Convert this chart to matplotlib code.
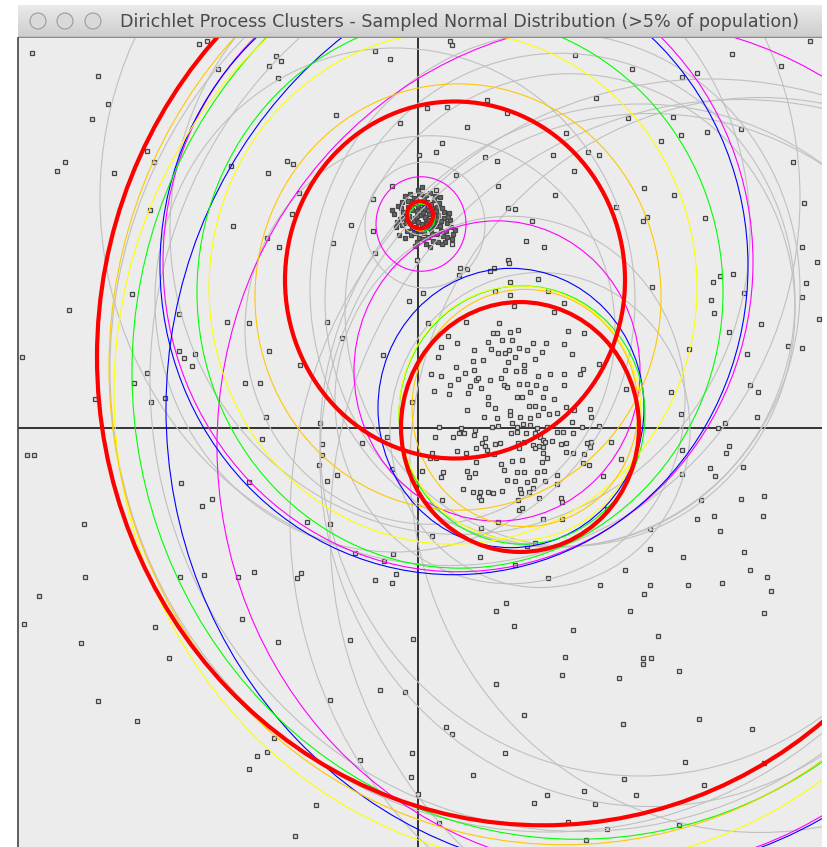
import matplotlib.pyplot as plt
import numpy as np
from matplotlib.patches import Ellipse, Circle

# window title
title = 'Dirichlet Process Clusters - Sampled Normal Distribution (>5% of population)'

# sample points, model units (origin at the cross-hair)
background = [
    (-3.86, 3.75), (-3.20, 3.52), (-3.10, 3.24), (-3.26, 3.09), (-3.53, 2.66), (-3.61, 2.57), (-3.04, 2.55),
    (-2.64, 2.66), (-2.71, 2.77), (-2.19, 3.84), (-2.00, 3.59), (-2.11, 3.87), (-1.42, 3.72), (-1.37, 3.67),
    (-1.49, 3.62), (-1.40, 3.50), (-0.43, 3.77), (-0.28, 3.69), (0.32, 3.87), (-0.82, 3.13), (-0.18, 3.05),
    (0.09, 3.20), (0.29, 3.21), (0.24, 2.85), (0.18, 2.76), (0.01, 2.73), (-1.31, 2.67), (-1.25, 2.64),
    (-1.87, 2.62), (-1.50, 2.55), (-0.26, 2.42), (0.38, 2.53), (0.18, 2.38), (-1.19, 2.35), (0.69, 3.28),
    (0.89, 3.15), (0.49, 3.01), (1.48, 2.95), (1.78, 3.30), (2.10, 3.10), (0.67, 2.71), (0.79, 2.67),
    (1.35, 2.73), (1.70, 2.76), (1.81, 2.73), (1.56, 2.57), (0.80, 2.42), (1.37, 2.33), (1.98, 2.21),
    (0.90, 2.20), (0.97, 2.19), (1.14, 2.07), (-0.67, 2.03), (-0.45, 1.97), (-0.85, 1.85), (-1.39, 1.81),
    (-1.51, 1.90), (-0.43, 1.75), (1.08, 1.87), (1.26, 1.81), (0.34, 1.84), (-0.01, 1.68), (0.90, 1.68),
    (0.91, 1.65), (0.42, 1.60), (0.49, 1.59), (0.41, 1.53), (0.72, 1.57), (0.76, 1.60), (1.20, 1.49),
    (1.30, 1.37), (0.92, 1.46), (0.77, 1.37), (0.05, 1.35), (-1.26, 2.14), (-0.45, 2.29), (3.14, 3.74),
    (3.63, 3.62), (2.14, 3.59), (2.79, 3.55), (2.64, 3.51), (2.55, 3.11), (2.43, 2.87), (2.63, 2.93),
    (2.89, 2.96), (3.23, 2.99), (3.75, 2.66), (2.26, 2.40), (2.56, 2.33), (3.86, 2.25), (2.29, 2.11),
    (2.25, 2.07), (2.87, 2.10), (3.84, 1.81), (3.99, 1.66), (3.02, 1.52), (3.15, 1.54), (2.95, 1.46),
    (2.34, 1.41), (3.88, 1.45), (3.92, 3.87), (2.93, 1.28), (2.96, 1.15), (3.26, 1.35), (3.84, 1.31),
    (4.01, 1.09), (3.11, 0.96), (3.43, 1.04), (3.70, 0.82), (3.84, 0.80), (2.71, 0.79), (3.29, 0.74),
    (2.53, 0.36), (2.63, 0.14), (3.32, 0.43), (3.40, 0.36), (3.39, 0.11), (3.07, 0.05), (3.00, 0.00),
    (3.11, -0.18), (3.08, -0.25), (2.64, -0.22), (2.92, -0.40), (2.97, -0.48), (3.25, -0.39), (2.64, -0.46),
    (2.83, -0.72), (3.23, -0.71), (3.46, -0.68), (2.79, -0.91), (2.96, -0.88), (3.02, -1.03), (3.45, -0.88),
    (2.32, -1.01), (2.32, -1.21), (2.65, -1.29), (3.26, -1.24), (3.32, -1.42), (3.49, -1.49), (3.53, -1.63),
    (2.32, -1.57), (2.26, -1.66), (2.70, -1.57), (3.04, -1.55), (3.46, -1.85), (-3.94, -1.96), (-3.37, -2.15),
    (-2.63, -1.99), (-2.49, -2.30), (-3.20, -2.73), (-2.81, -2.93), (-1.76, -1.91), (-1.40, -2.14),
    (-1.44, -3.10), (-1.61, -3.28), (-1.51, -3.24), (-1.69, -3.41), (-1.23, -4.08), (-0.05, -2.11),
    (0.78, -1.83), (0.88, -1.75), (0.96, -1.98), (1.55, -2.02), (2.12, -1.83), (2.40, -2.08), (1.47, -2.29),
    (1.44, -2.47), (2.25, -2.30), (2.33, -2.30), (2.25, -2.36), (2.61, -2.43), (2.01, -2.50), (0.78, -2.56),
    (-0.13, -2.64), (1.06, -2.87), (2.05, -2.96), (2.81, -2.91), (3.34, -3.01), (0.28, -2.99), (0.34, -3.06),
    (-0.06, -3.25), (0.87, -3.25), (2.67, -3.34), (3.46, -3.35), (0.55, -3.47), (-0.07, -3.49), (2.06, -3.51),
    (2.86, -3.57), (0.00, -3.66), (1.29, -3.67), (1.66, -3.63), (2.18, -3.67), (1.16, -3.75), (1.77, -3.76),
    (0.21, -3.95), (1.50, -3.94), (1.89, -4.01), (2.61, -3.97), (1.68, -4.12), (-2.86, 1.34), (-2.39, 1.14),
    (-1.91, 1.06), (-1.69, 1.05), (-1.49, 0.77), (-2.39, 0.77), (-2.34, 0.70), (-2.23, 0.74), (-2.26, 0.62),
    (-2.71, 0.55), (-2.84, 0.45), (-2.53, 0.30), (-2.67, 0.26), (-3.23, 0.29), (-1.73, 0.45), (-1.58, 0.45),
    (-1.52, 0.11), (-1.56, -0.11), (-2.37, -0.55), (-2.06, -0.71), (-2.16, -0.78), (-1.69, -0.54),
    (-3.34, -0.96), (-3.33, -1.49), (-2.38, -1.49), (-2.14, -1.47), (-1.80, -1.49), (-1.64, -1.44),
    (-0.98, 0.05), (-3.91, -0.27), (-3.84, -0.27), (-0.96, -0.16), (-0.96, -0.27), (-0.99, -0.37),
    (-0.56, -0.15), (-0.31, -0.09), (-0.06, 0.26), (-0.26, -0.41), (-0.81, -0.47), (-0.91, -0.53),
    (-1.11, -0.94), (-0.88, -0.96), (-0.63, -1.25), (-0.25, -1.26), (-0.34, -1.33), (-1.17, -1.45),
    (-1.21, -1.50), (-0.43, -1.52), (-0.26, -1.55), (-0.22, -1.46), (-3.79, -1.68), (-3.96, 0.71),
    (-3.49, 1.18), (-0.91, 1.06), (-0.76, 0.90), (-0.35, 0.73), (-1.18, 0.63), (0.34, 3.83), (1.57, 3.73),
    (0.97, -1.37), (1.30, -1.50), (1.82, -1.57), (2.07, -1.42), (-0.68, -2.12), (-0.88, -2.72),
    (-0.58, -3.32), (-1.02, -3.77), (-0.38, -2.62), (-2.68, 2.18), (-1.85, 2.02),
]

broad = [
    (-0.09, 1.27), (1.46, 1.25), (0.96, 1.22), (1.36, 1.16), (0.92, 1.33), (0.48, 1.06), (0.81, 1.05),
    (0.10, 1.05), (0.30, 0.92), (0.75, 0.95), (0.79, 0.95), (0.92, 0.96), (1.00, 0.98), (1.50, 0.97),
    (1.66, 0.95), (0.84, 0.88), (0.94, 0.88), (0.70, 0.86), (0.23, 0.81), (0.39, 0.85), (1.15, 0.85),
    (1.28, 0.85), (1.46, 0.84), (0.56, 0.78), (0.73, 0.79), (0.80, 0.75), (0.87, 0.75), (0.91, 0.78),
    (1.01, 0.80), (1.09, 0.78), (1.24, 0.76), (1.54, 0.74), (0.20, 0.71), (0.90, 0.66), (0.97, 0.71),
    (0.55, 0.67), (0.65, 0.68), (1.17, 0.69), (0.38, 0.61), (0.47, 0.55), (0.56, 0.58), (0.87, 0.58),
    (0.98, 0.57), (1.06, 0.63), (1.06, 0.57), (1.20, 0.52), (1.32, 0.54), (1.46, 0.54), (1.65, 0.59),
    (1.62, 0.54), (1.81, 0.64), (0.13, 0.54), (0.23, 0.52), (0.40, 0.49), (0.58, 0.48), (0.60, 0.50),
    (0.72, 0.48), (0.83, 0.50), (0.86, 0.43), (0.89, 0.41), (1.01, 0.44), (1.09, 0.44), (1.18, 0.43),
    (1.27, 0.40), (1.46, 0.43), (0.32, 0.43), (0.52, 0.42), (0.63, 0.40), (0.16, 0.37), (0.31, 0.34),
    (0.50, 0.35), (0.70, 0.31), (0.99, 0.31), (1.04, 0.31), (1.12, 0.36), (1.25, 0.31), (1.36, 0.29),
    (2.08, 0.39), (0.70, 0.24), (0.77, 0.20), (0.92, 0.17), (1.11, 0.22), (1.17, 0.22), (1.25, 0.20),
    (1.48, 0.21), (1.56, 0.18), (1.72, 0.19), (0.49, 0.18), (0.66, 0.11), (0.79, 0.10), (0.92, 0.13),
    (1.02, 0.11), (1.12, 0.10), (1.20, 0.13), (1.31, 0.14), (1.39, 0.15), (1.73, 0.11), (0.21, 0.01),
    (0.43, 0.00), (0.57, -0.02), (0.74, 0.01), (0.80, 0.02), (0.94, 0.05), (0.99, 0.01), (1.05, 0.04),
    (1.12, 0.03), (1.19, 0.00), (1.29, 0.01), (1.39, -0.04), (1.45, -0.04), (1.54, 0.06), (1.64, 0.01),
    (1.81, 0.02), (0.17, -0.09), (0.35, -0.09), (0.41, -0.05), (0.46, -0.05), (0.56, -0.07), (0.67, -0.10),
    (0.93, -0.05), (0.99, -0.04), (1.08, -0.05), (1.17, -0.05), (1.22, -0.09), (1.25, -0.12), (1.27, -0.14),
    (1.34, -0.13), (1.55, -0.05), (1.69, -0.15), (1.73, -0.14), (1.93, -0.14), (0.64, -0.15), (0.67, -0.18),
    (0.77, -0.16), (0.82, -0.15), (1.00, -0.15), (1.06, -0.14), (1.15, -0.17), (1.21, -0.18), (1.43, -0.16),
    (1.48, -0.15), (0.14, -0.25), (0.18, -0.30), (0.12, -0.30), (0.39, -0.23), (0.48, -0.25), (0.58, -0.20),
    (0.69, -0.22), (0.76, -0.26), (1.01, -0.20), (1.17, -0.20), (1.25, -0.19), (1.25, -0.25), (1.48, -0.24),
    (1.55, -0.25), (1.66, -0.26), (1.72, -0.19), (2.03, -0.31), (0.58, -0.34), (0.83, -0.36), (0.94, -0.33),
    (1.04, -0.32), (1.24, -0.34), (1.29, -0.30), (1.65, -0.35), (1.71, -0.37), (0.49, -0.43), (0.25, -0.44),
    (0.23, -0.49), (0.86, -0.42), (0.99, -0.44), (1.06, -0.44), (1.19, -0.44), (1.26, -0.43), (1.39, -0.47),
    (1.85, -0.48), (0.04, -0.43), (0.51, -0.49), (0.57, -0.45), (0.89, -0.52), (0.97, -0.53), (1.09, -0.54),
    (1.16, -0.52), (1.27, -0.53), (1.39, -0.56), (0.45, -0.61), (0.55, -0.64), (0.62, -0.64), (0.70, -0.64),
    (0.75, -0.65), (0.84, -0.63), (1.02, -0.61), (1.11, -0.64), (1.03, -0.65), (1.15, -0.60), (0.61, -0.69),
    (0.63, -0.72), (1.00, -0.72), (1.21, -0.70), (1.43, -0.70), (0.24, -0.72), (1.01, -0.82), (1.04, -0.80),
    (1.44, -0.74), (1.89, -0.81), (1.25, -0.91), (0.80, -0.94), (1.44, -0.91), (0.63, -1.00), (0.14, -1.08),
    (1.17, -1.15), (1.09, -1.18), (0.62, -1.29),
]

tight = [
    (0.02, 2.13), (0.05, 2.16), (-0.03, 2.10), (0.08, 2.09), (-0.06, 2.18), (0.11, 2.14), (-0.09, 2.12),
    (0.00, 2.22), (0.04, 2.04), (-0.02, 2.01), (0.14, 2.20), (-0.12, 2.05), (0.09, 2.26), (-0.08, 2.27),
    (0.17, 2.07), (0.13, 1.99), (-0.15, 2.16), (0.20, 2.13), (-0.04, 2.30), (0.06, 1.95), (0.22, 2.02),
    (-0.18, 2.09), (0.24, 2.20), (0.16, 2.28), (-0.11, 1.97), (0.01, 1.90), (-0.20, 2.22), (0.26, 2.10),
    (0.10, 1.91), (-0.07, 1.93), (0.19, 1.94), (0.29, 2.05), (-0.13, 2.32), (0.03, 2.34), (0.28, 1.97),
    (-0.22, 2.01), (0.12, 2.35), (0.31, 2.15), (-0.01, 1.86), (0.15, 1.87), (0.07, 2.11), (-0.05, 2.07),
    (0.10, 2.18), (-0.01, 2.17), (0.18, 2.17), (-0.10, 2.21), (0.04, 2.25), (0.21, 2.25), (-0.16, 2.26),
    (0.25, 1.92), (0.33, 2.01), (0.32, 2.08), (0.08, 1.84), (-0.03, 1.82), (0.20, 1.86), (-0.24, 2.14),
    (0.35, 1.94), (-0.19, 1.93), (0.27, 1.86), (0.00, 2.38), (0.12, 2.00), (-0.06, 2.00), (0.15, 2.09),
    (0.06, 2.30), (-0.12, 2.13), (0.22, 2.31), (0.00, 2.06), (0.06, 2.20), (-0.05, 2.24), (0.13, 2.24),
    (0.16, 2.13), (-0.02, 2.28), (0.09, 2.04), (-0.08, 2.06), (0.18, 2.02), (0.23, 2.07), (-0.14, 2.10),
    (-0.10, 2.27), (0.02, 1.97), (0.14, 1.94), (0.05, 1.89), (-0.04, 1.95), (0.26, 2.16), (0.29, 1.91),
    (0.23, 1.97), (0.30, 2.11), (0.19, 2.21), (-0.17, 2.20), (-0.21, 2.06), (0.08, 2.33), (-0.08, 2.34),
    (0.17, 2.32), (0.37, 1.98), (0.34, 1.89), (0.24, 1.84), (0.12, 1.81), (-0.13, 1.90), (-0.26, 2.18),
    (0.04, 2.41), (-0.16, 2.03), (0.19, 2.09), (0.11, 2.08), (0.03, 2.19), (-0.01, 2.12), (0.07, 2.01),
    (0.15, 2.04),
]

# model circles per iteration: centre x, centre y, 3*sd
gray_cx = [1.42, 1.52, 1.37, 2.92, 3.22, 3.42, 0.32, 0.42, 0.12, 2.32, 2.22, 1.22, 0.92, -0.23, 1.32, 1.62, 0.02, 0.07]
gray_cy = [1.28, 1.18, 1.38, -0.92, -1.02, -0.37, 2.30, 1.98, 0.98, -0.32, -0.12, -0.02, 0.28, 1.28, 0.58, 0.48, 2.14, 2.03]
gray_r = [2.35, 2.25, 2.45, 4.20, 4.10, 3.50, 3.50, 2.90, 1.85, 3.30, 3.20, 1.50, 1.75, 2.40, 4.40, 4.30, 0.20, 0.60]

magenta_cx = [0.40, 2.04, 0.79, 0.03]
magenta_cy = [1.66, -0.18, 0.57, 2.04]
magenta_r = [2.95, 4.05, 1.43, 0.45]

blue_cx = [0.36, 1.92, 0.93, 0.02]
blue_cy = [1.62, 0.19, 0.20, 2.10]
blue_r = [2.94, 4.44, 1.33, 0.13]

green_cx = [1.59, 0.42, 1.04, 0.04]
green_cy = [0.56, 1.36, 0.13, 2.10]
green_r = [4.45, 2.63, 1.23, 0.13]

yellow_cx = [1.46, 0.35, 1.02, 0.02]
yellow_cy = [0.35, 1.40, 0.15, 2.11]
yellow_r = [4.50, 2.44, 1.21, 0.13]

orange_cx = [1.46, 0.40, 1.07, 0.03]
orange_cy = [0.61, 1.31, 0.20, 2.12]
orange_r = [4.55, 2.03, 1.13, 0.13]

red_cx = [1.25, 0.37, 1.02, 0.02]
red_cy = [0.71, 1.48, 0.01, 2.13]
red_r = [4.46, 1.70, 1.19, 0.13]

W, H = 827, 847
fig = plt.figure(figsize=(W / 100, H / 100), dpi=100)
fig.patch.set_facecolor('white')

# --- title bar ---
tb = fig.add_axes([18 / W, (H - 38) / H, 804 / W, 33 / H])
grad = np.linspace(0.915, 0.80, 33)[:, None] * np.ones((1, 4))
tb.imshow(grad, cmap='gray', vmin=0, vmax=1, extent=(18, 822, 38, 5), aspect='auto')
tb.set_xlim(18, 822)
tb.set_ylim(38, 5)
tb.axhline(37.5, color='#8a8a8a', lw=1)
for bx in [38, 65, 93]:
    tb.add_patch(Circle((bx, 21), 8, facecolor='#d9d9d9', edgecolor='#9c9c9c', lw=0.8))
tb.text(460, 22, title, ha='center', va='center', fontsize=12.6, color='#4a4a4a', family='DejaVu Sans')
tb.axis('off')

# --- canvas ---
ax = fig.add_axes([18 / W, 0, 804 / W, (H - 38) / H])
ax.set_facecolor('#ececec')
ax.set_xlim(-4.00, 4.04)
ax.set_ylim(-4.19, 3.90)
for s in ['top', 'right', 'bottom']:
    ax.spines[s].set_visible(False)
ax.spines['left'].set_color('#444444')
ax.spines['left'].set_linewidth(1.2)
ax.set_xticks([])
ax.set_yticks([])

ax.axhline(0, color='black', lw=1.1, zorder=1)
ax.axvline(0, color='black', lw=1.1, zorder=1)

for pts, fc in [(background, '#d8d8d8'), (broad, '#d8d8d8'), (tight, '#666666')]:
    px, py = np.array(pts).T
    ax.plot(px, py, 's', ms=3.4, mfc=fc, mec='#454545', mew=0.9, zorder=2)

# circles are drawn 5% taller than wide, as on the original screen
ys = 1.05
models = [
    (gray_cx, gray_cy, gray_r, '#c0c0c0', 0.8),
    (magenta_cx, magenta_cy, magenta_r, '#ff00ff', 0.8),
    (blue_cx, blue_cy, blue_r, '#0000ff', 0.8),
    (green_cx, green_cy, green_r, '#00ff00', 0.8),
    (yellow_cx, yellow_cy, yellow_r, '#ffff00', 0.8),
    (orange_cx, orange_cy, orange_r, '#ffc800', 0.8),
    (red_cx, red_cy, red_r, '#ff0000', 3.0),
]
for cxs, cys, rs, col, lw in models:
    for cx, cy, r in zip(cxs, cys, rs):
        ax.add_patch(Ellipse((cx, cy), 2 * r, 2 * r * ys, fill=False, ec=col, lw=lw, zorder=3))

fig.savefig('out.png', dpi=100)
